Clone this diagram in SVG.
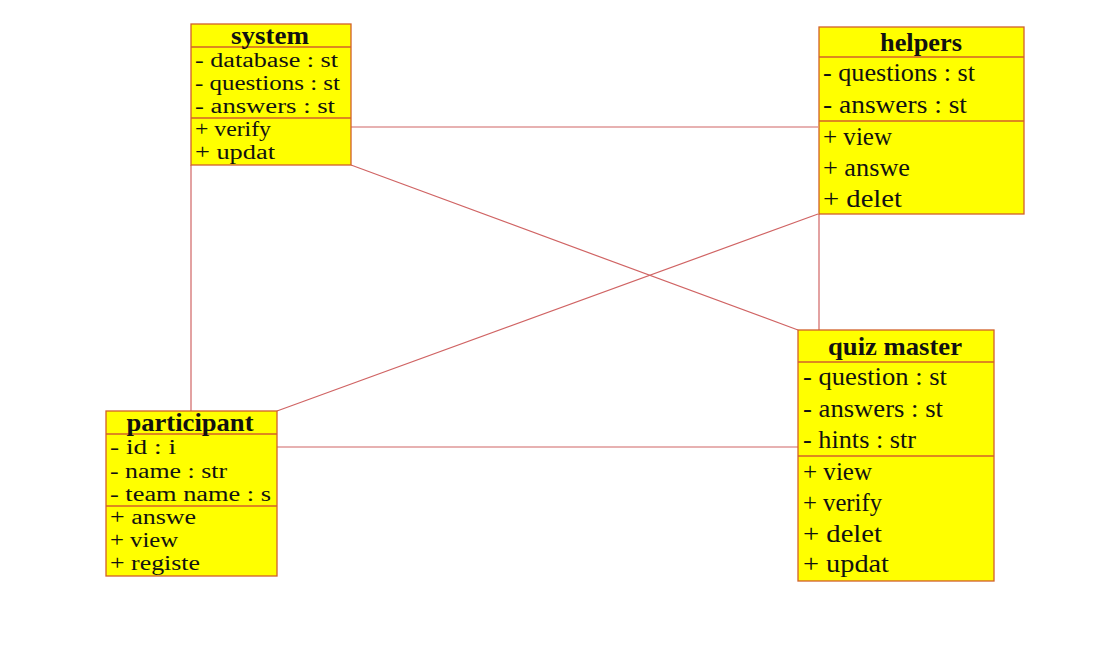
<svg xmlns="http://www.w3.org/2000/svg" width="1109" height="645" viewBox="0 0 1109 645">
<style>
.box{fill:#ffff00;stroke:#d2602a;stroke-width:1.3}
.sep{stroke:#d2602a;stroke-width:1.3}
.t{font-family:"Liberation Serif","Times New Roman",serif;fill:#111}
.h{font-weight:bold;text-anchor:middle}
.s{font-size:20px}
.l{font-size:26px}
.conn line{stroke:#d06464;stroke-width:1.2;fill:none}
</style>
<rect width="1109" height="645" fill="#ffffff"/>
<g class="conn" id="connectors">
<line x1="351" y1="127" x2="818" y2="127"/>
<line x1="351" y1="165" x2="798" y2="330"/>
<line x1="191" y1="165" x2="191" y2="411"/>
<line x1="818" y1="214" x2="277" y2="411"/>
<line x1="819" y1="214" x2="819" y2="330"/>
<line x1="277" y1="447" x2="798" y2="447"/>
</g>
<g id="system">
<rect class="box" x="191" y="24" width="160" height="141"/>
<line class="sep" x1="191" y1="47" x2="351" y2="47"/>
<line class="sep" x1="191" y1="118" x2="351" y2="118"/>
<text class="t h l" x="270" y="44" textLength="78" lengthAdjust="spacingAndGlyphs">system</text>
<text class="t s" x="195" y="67" textLength="143" lengthAdjust="spacingAndGlyphs">- database : st</text>
<text class="t s" x="195" y="90" textLength="145" lengthAdjust="spacingAndGlyphs">- questions : st</text>
<text class="t s" x="195" y="113" textLength="140" lengthAdjust="spacingAndGlyphs">- answers : st</text>
<text class="t s" x="195" y="136" textLength="76" lengthAdjust="spacingAndGlyphs">+ verify</text>
<text class="t s" x="195" y="159" textLength="80" lengthAdjust="spacingAndGlyphs">+ updat</text>
</g>
<g id="helpers">
<rect class="box" x="819" y="27" width="205" height="187"/>
<line class="sep" x1="819" y1="57" x2="1024" y2="57"/>
<line class="sep" x1="819" y1="121" x2="1024" y2="121"/>
<text class="t h l" x="921" y="51" textLength="82" lengthAdjust="spacingAndGlyphs">helpers</text>
<text class="t l" x="823" y="81" textLength="152" lengthAdjust="spacingAndGlyphs">- questions : st</text>
<text class="t l" x="823" y="113" textLength="144" lengthAdjust="spacingAndGlyphs">- answers : st</text>
<text class="t l" x="823" y="145" textLength="69" lengthAdjust="spacingAndGlyphs">+ view</text>
<text class="t l" x="823" y="176" textLength="87" lengthAdjust="spacingAndGlyphs">+ answe</text>
<text class="t l" x="823" y="207" textLength="79" lengthAdjust="spacingAndGlyphs">+ delet</text>
</g>
<g id="quiz-master">
<rect class="box" x="798" y="330" width="196" height="251"/>
<line class="sep" x1="798" y1="362" x2="994" y2="362"/>
<line class="sep" x1="798" y1="456" x2="994" y2="456"/>
<text class="t h l" x="895" y="355" textLength="134" lengthAdjust="spacingAndGlyphs">quiz master</text>
<text class="t l" x="803" y="385" textLength="144" lengthAdjust="spacingAndGlyphs">- question : st</text>
<text class="t l" x="803" y="417" textLength="140" lengthAdjust="spacingAndGlyphs">- answers : st</text>
<text class="t l" x="803" y="448" textLength="113" lengthAdjust="spacingAndGlyphs">- hints : str</text>
<text class="t l" x="803" y="480" textLength="69" lengthAdjust="spacingAndGlyphs">+ view</text>
<text class="t l" x="803" y="511" textLength="79" lengthAdjust="spacingAndGlyphs">+ verify</text>
<text class="t l" x="803" y="542" textLength="79" lengthAdjust="spacingAndGlyphs">+ delet</text>
<text class="t l" x="803" y="572" textLength="86" lengthAdjust="spacingAndGlyphs">+ updat</text>
</g>
<g id="participant">
<rect class="box" x="106" y="411" width="171" height="165"/>
<line class="sep" x1="106" y1="434" x2="277" y2="434"/>
<line class="sep" x1="106" y1="506" x2="277" y2="506"/>
<text class="t h l" x="190" y="431" textLength="127" lengthAdjust="spacingAndGlyphs">participant</text>
<text class="t s" x="110" y="454" textLength="66" lengthAdjust="spacingAndGlyphs">- id : i</text>
<text class="t s" x="110" y="478" textLength="117" lengthAdjust="spacingAndGlyphs">- name : str</text>
<text class="t s" x="110" y="501" textLength="161" lengthAdjust="spacingAndGlyphs">- team name : s</text>
<text class="t s" x="110" y="524" textLength="86" lengthAdjust="spacingAndGlyphs">+ answe</text>
<text class="t s" x="110" y="547" textLength="68" lengthAdjust="spacingAndGlyphs">+ view</text>
<text class="t s" x="110" y="570" textLength="90" lengthAdjust="spacingAndGlyphs">+ registe</text>
</g>
</svg>
